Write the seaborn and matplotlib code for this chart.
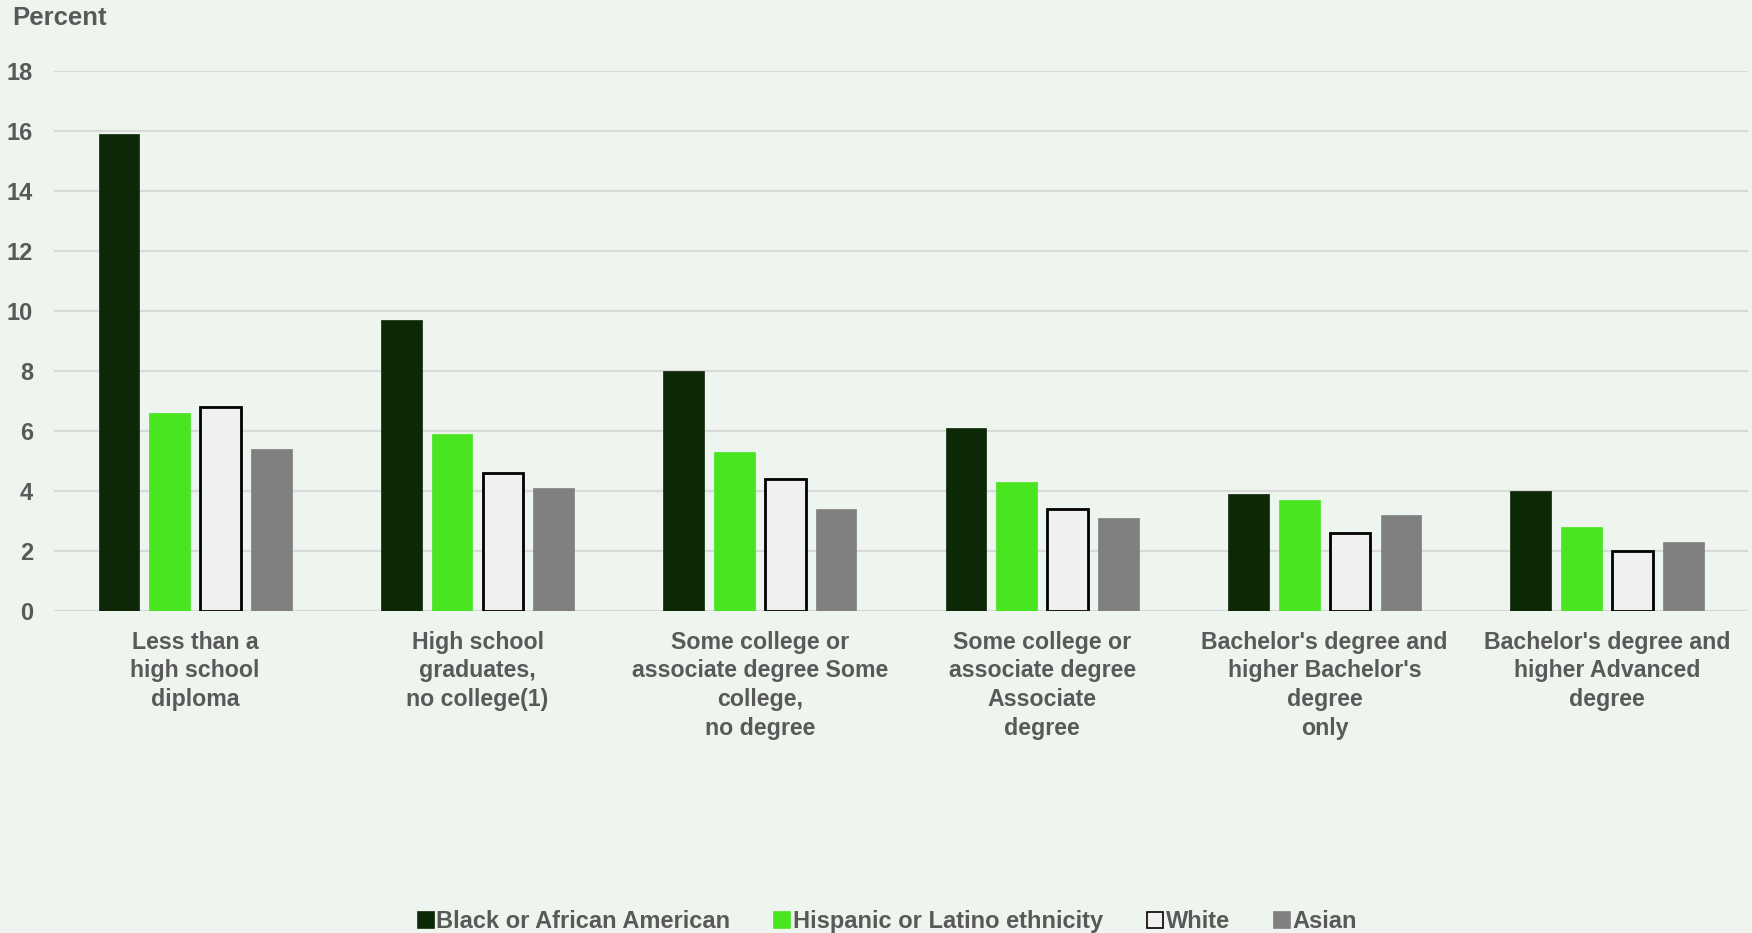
import matplotlib
matplotlib.use("Agg")
import matplotlib.pyplot as plt
import seaborn as sns
import pandas as pd
from matplotlib.lines import Line2D

categories = [
    "Less than a\nhigh school\ndiploma",
    "High school\ngraduates,\nno college(1)",
    "Some college or\nassociate degree Some\ncollege,\nno degree",
    "Some college or\nassociate degree\nAssociate\ndegree",
    "Bachelor's degree and\nhigher Bachelor's\ndegree\nonly",
    "Bachelor's degree and\nhigher Advanced\ndegree",
]
series = ["Black or African American", "Hispanic or Latino ethnicity", "White", "Asian"]
black = [15.9, 9.7, 8.0, 6.1, 3.9, 4.0]
hispanic = [6.6, 5.9, 5.3, 4.3, 3.7, 2.8]
white = [6.8, 4.6, 4.4, 3.4, 2.6, 2.0]
asian = [5.4, 4.1, 3.4, 3.1, 3.2, 2.3]

colors = ["#0D2806", "#48E520", "#F0F0F0", "#808080"]
edges = ["#0D2806", "#48E520", "#000000", "#808080"]
bg = "#EEF5EE"
txt = "#595959"

rows = []
for s, vals in zip(series, [black, hispanic, white, asian]):
    for c, v in zip(categories, vals):
        rows.append({"cat": c, "series": s, "value": v})
df = pd.DataFrame(rows)

sns.set_theme(style="white")
plt.rcParams['font.family'] = ['Liberation Sans', 'DejaVu Sans']
plt.rcParams['font.weight'] = 'bold'

fig = plt.figure(figsize=(17.52, 9.33), dpi=100, facecolor=bg)
ax = fig.add_axes([0.0308, 0.345, 0.967, 0.5784], facecolor=bg)

sns.barplot(data=df, x="cat", y="value", hue="series", order=categories,
            hue_order=series, palette=colors, width=0.72, gap=0.2,
            ax=ax, legend=False, saturation=1)

for cont, ec in zip(ax.containers, edges):
    for p in cont:
        p.set_edgecolor(ec)
        p.set_linewidth(2.0 if ec == "#000000" else 0.5)
        p.set_zorder(3)

ax.set_ylim(0, 18)
ax.set_xlim(-0.5, 5.5)
ax.set_yticks(range(0, 19, 2))
ax.yaxis.grid(True, color="#D9D9D9", linewidth=1.6, zorder=0)
ax.set_axisbelow(True)
for sp in ax.spines.values():
    sp.set_visible(False)
ax.set_xlabel("")
ax.set_ylabel("")
ax.tick_params(axis="y", length=0, pad=15, labelsize=17, labelcolor=txt)
ax.tick_params(axis="x", length=0, pad=14, labelsize=16.7, labelcolor=txt)
for lab in ax.get_yticklabels() + ax.get_xticklabels():
    lab.set_fontweight("bold")
for lab in ax.get_xticklabels():
    lab.set_linespacing(1.33)

fig.text(0.007, 0.981, "Percent", fontsize=18.5, fontweight="bold", color=txt,
         ha="left", va="center")

handles = [Line2D([0], [0], marker="s", linestyle="none", markersize=11,
                  markerfacecolor=c, markeredgecolor=e, markeredgewidth=1.2)
           for c, e in zip(colors, edges)]
leg = fig.legend(handles, series, loc="center", bbox_to_anchor=(0.506, 0.012),
                 ncol=4, frameon=False, fontsize=17, handletextpad=0.05,
                 columnspacing=1.8, handlelength=0.8)
for t in leg.get_texts():
    t.set_color(txt)
    t.set_fontweight("bold")

fig.savefig("out.png", dpi=100, facecolor=bg)
